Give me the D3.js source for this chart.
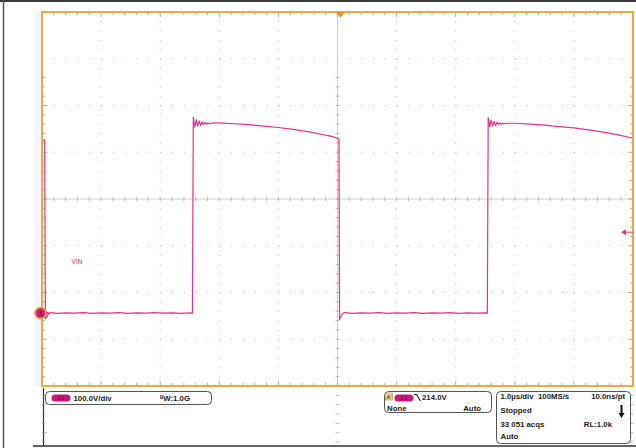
<!DOCTYPE html>
<html>
<head>
<meta charset="utf-8">
<script src="https://cdn.jsdelivr.net/npm/d3@7"></script>
<style>
  body { margin: 0; background: #fff; }
  svg { display: block; font-family: "Liberation Sans", Arial, sans-serif; }
  .lbl { font-size: 7.8px; font-weight: bold; fill: #222; }
</style>
</head>
<body>
<div id="scope"></div>
<script>
// waveform: time in us, voltage in V (100 V/div)
const timeUs = [-5.00, -4.955, -4.945, -4.94, -4.92, -4.89, -4.85, -4.75, -4.6, -4.45, -4.3, -4.15, -4.0,
  -3.85, -3.7, -3.55, -3.4, -3.25, -3.1, -2.95, -2.8, -2.65, -2.5, -2.455,
  -2.44, -2.415, -2.39, -2.365, -2.34, -2.315, -2.29, -2.265, -2.24, -2.215, -2.19, -2.16, -2.1, -2.0,
  -1.75, -1.5, -1.25, -1.0, -0.75, -0.5, -0.3, -0.1, 0.0, 0.025,
  0.035, 0.055, 0.08, 0.12, 0.25, 0.4, 0.55, 0.7, 0.85, 1.0, 1.15, 1.3, 1.45, 1.6, 1.75, 1.9, 2.05, 2.2, 2.35, 2.5, 2.535,
  2.55, 2.575, 2.60, 2.625, 2.65, 2.675, 2.70, 2.725, 2.75, 2.775, 2.80, 2.83, 2.9, 3.0,
  3.25, 3.5, 3.75, 4.0, 4.25, 4.5, 4.75, 5.0];
const volts = [371, 370, 60, -12, -8, -2, 1, -0.5, 0.5, 0, 1, -0.5, 0.5,
  0, 1, -0.5, 0.5, 0, 1, 0, 0.5, -0.5, 0.5, 0,
  419, 398, 414, 400, 411, 401, 409, 403, 408, 404, 407, 405, 407, 407,
  405, 403, 400, 397, 393, 388, 383, 378, 374, 372,
  -14, -8, -2, 1, -0.5, 0.5, 0, 1, -0.5, 0.5, 0, 1, -0.5, 0.5, 0, 1, -0.5, 0.5, 0, 0.5, 0,
  418, 399, 413, 400, 410, 401, 408, 403, 407, 404, 406, 405, 406, 406,
  404, 402, 399, 396, 392, 387, 381, 374];

const timeDomain = [-5, 5];        // 1 us/div, 10 div
const voltDomain = [-156, 644];    // 100 V/div, 8 div, ground 2.44 div below center
const triggerPos = 0.05;           // us
const triggerArrow = 173;          // V, where the level arrow sits
const groundLevel = 0;

const chLabel = "VIN";
const scaleText = ["100.0V/div"];
const trigText = ["214.0V", "None", "Auto"];
const timeText = ["1.0\u00b5s/div", "100MS/s", "10.0ns/pt", "Stopped", "33 051 acqs", "RL:1.0k", "Auto"];

const W = 636, H = 448;
const plot = {left: 42, right: 633, top: 12, bottom: 386};

const svg = d3.select("#scope").append("svg")
    .attr("width", W)
    .attr("height", H);

const x = d3.scaleLinear().domain(timeDomain).range([plot.left, plot.right]);
const y = d3.scaleLinear().domain(voltDomain).range([plot.bottom, plot.top]);

// outer frame of the screen grab
svg.append("line").attr("x1", 0).attr("x2", W).attr("y1", 1).attr("y2", 1)
    .attr("stroke", "#3a3a3a").attr("stroke-width", 2);
svg.append("line").attr("x1", 3.5).attr("x2", 3.5).attr("y1", 0).attr("y2", H)
    .attr("stroke", "#555").attr("stroke-width", 1.5);
svg.append("line").attr("x1", 33).attr("x2", W).attr("y1", 446).attr("y2", 446)
    .attr("stroke", "#333").attr("stroke-width", 1.5);
svg.append("line").attr("x1", 43.5).attr("x2", 43.5).attr("y1", 388).attr("y2", 446)
    .attr("stroke", "#333").attr("stroke-width", 1.2);

// faint strip left of the graticule
svg.append("rect").attr("x", 34).attr("y", plot.top).attr("width", 7).attr("height", plot.bottom - plot.top)
    .attr("fill", "#f2f5f9");

const g = svg.append("g");

// graticule: dotted lines at every division, dots on minor positions
const minorT = (x(0.2) - x(0)), minorV = (y(0) - y(20));
const divT = d3.range(-4, 5).filter(d => d !== 0);
const centerV = (voltDomain[0] + voltDomain[1]) / 2;
const divV = d3.range(-3, 4).filter(d => d !== 0).map(k => centerV + k * 100);

g.selectAll(".vgrid").data(divT).enter().append("line")
    .attr("x1", d => x(d)).attr("x2", d => x(d))
    .attr("y1", plot.top + minorV).attr("y2", plot.bottom)
    .attr("stroke", "#b8b8b8").attr("stroke-width", 1)
    .attr("stroke-dasharray", `1,${minorV - 1}`);

g.selectAll(".hgrid").data(divV).enter().append("line")
    .attr("y1", d => y(d)).attr("y2", d => y(d))
    .attr("x1", plot.left + minorT).attr("x2", plot.right)
    .attr("stroke", "#b8b8b8").attr("stroke-width", 1)
    .attr("stroke-dasharray", `1,${minorT - 1}`);

// center cross with ticks
g.append("line").attr("x1", x(0)).attr("x2", x(0)).attr("y1", plot.top).attr("y2", plot.bottom)
    .attr("stroke", "#c4c4c4").attr("stroke-width", 0.8);
g.append("line").attr("y1", y(centerV)).attr("y2", y(centerV)).attr("x1", plot.left).attr("x2", plot.right)
    .attr("stroke", "#c4c4c4").attr("stroke-width", 0.8);

const minorTimes = d3.range(-49, 50).map(d => d / 10).filter((d, i) => Math.round(d * 10) % 2 === 0);
const minorVolts = d3.range(-7, 33).map(k => voltDomain[0] + 20 * k + 20).filter(v => v < voltDomain[1]);

g.selectAll(".ctickx").data(minorTimes).enter().append("line")
    .attr("x1", d => x(d)).attr("x2", d => x(d))
    .attr("y1", y(centerV) - 2).attr("y2", y(centerV) + 2)
    .attr("stroke", "#aaa").attr("stroke-width", 0.8);
g.selectAll(".cticky").data(minorVolts).enter().append("line")
    .attr("y1", d => y(d)).attr("y2", d => y(d))
    .attr("x1", x(0) - 2).attr("x2", x(0) + 2)
    .attr("stroke", "#aaa").attr("stroke-width", 0.8);

// border ticks, pointing inward
const isMajT = d => Math.abs(d - Math.round(d)) < 1e-6;
[plot.top, plot.bottom].forEach((yy, i) => {
    const dir = i === 0 ? 1 : -1;
    g.selectAll(null).data(minorTimes).enter().append("line")
        .attr("x1", d => x(d)).attr("x2", d => x(d))
        .attr("y1", yy).attr("y2", d => yy + dir * (isMajT(d) ? 5 : 3))
        .attr("stroke", "#999").attr("stroke-width", 0.8);
});
const isMajV = d => Math.abs(((d - centerV) / 100) - Math.round((d - centerV) / 100)) < 1e-6;
[plot.left, plot.right].forEach((xx, i) => {
    const dir = i === 0 ? 1 : -1;
    g.selectAll(null).data(minorVolts).enter().append("line")
        .attr("y1", d => y(d)).attr("y2", d => y(d))
        .attr("x1", xx).attr("x2", d => xx + dir * (isMajV(d) ? 5 : 3))
        .attr("stroke", "#999").attr("stroke-width", 0.8);
});

// the trace
const pts = timeUs.map((t, i) => [t, volts[i]]);
const line = d3.line().x(d => x(d[0])).y(d => y(d[1]));
g.append("path")
    .datum(pts)
    .attr("d", line)
    .attr("fill", "none")
    .attr("stroke", "#e2338f")
    .attr("stroke-width", 1.2)
    .attr("stroke-linejoin", "round");

g.append("text")
    .attr("x", x(-4.5)).attr("y", y(centerV - 140))
    .attr("font-size", 6.5)
    .attr("fill", "#d42a86")
    .text(chLabel);

// orange border
svg.append("rect")
    .attr("x", plot.left).attr("y", plot.top)
    .attr("width", plot.right - plot.left).attr("height", plot.bottom - plot.top)
    .attr("fill", "none").attr("stroke", "#f2a93b").attr("stroke-width", 2);

// trigger position marker at top
const tx = x(triggerPos);
svg.append("path")
    .attr("d", `M${tx - 4},${plot.top} L${tx + 4},${plot.top} L${tx},${plot.top + 6} Z`)
    .attr("fill", "#f08a1c");

// trigger level arrow at right
const ty = y(triggerArrow);
svg.append("path")
    .attr("d", `M${plot.right - 12},${ty} L${plot.right - 7},${ty - 3} L${plot.right - 7},${ty + 3} Z`)
    .attr("fill", "#e2338f");
svg.append("line").attr("x1", plot.right - 8).attr("x2", plot.right).attr("y1", ty).attr("y2", ty)
    .attr("stroke", "#e2338f").attr("stroke-width", 1);

// channel 1 ground marker
const gy = y(groundLevel);
svg.append("path")
    .attr("d", `M${plot.left + 2},${gy - 3} L${plot.left + 8},${gy} L${plot.left + 2},${gy + 3} Z`)
    .attr("fill", "#e2338f");
svg.append("circle").attr("cx", plot.left - 1.5).attr("cy", gy).attr("r", 5.5)
    .attr("fill", "#d4237c").attr("stroke", "#f7a530").attr("stroke-width", 1.5);
svg.append("text").attr("x", plot.left - 1.5).attr("y", gy + 2.5)
    .attr("text-anchor", "middle").attr("font-size", 6.5).attr("font-weight", "bold")
    .attr("fill", "#222").text("1");

// ---- readout panel ----
const panel = svg.append("g");

function box(x0, y0, w, h) {
    panel.append("rect").attr("x", x0).attr("y", y0).attr("width", w).attr("height", h)
        .attr("rx", 4).attr("fill", "#fff").attr("stroke", "#555").attr("stroke-width", 1);
}
function pill(x0, y0) {
    panel.append("rect").attr("x", x0).attr("y", y0).attr("width", 19).attr("height", 7)
        .attr("rx", 3.5).attr("fill", "#c8177e");
    panel.append("text").attr("x", x0 + 9.5).attr("y", y0 + 5.5).attr("text-anchor", "middle")
        .attr("font-size", 5).attr("fill", "#5a0a38").text("C1");
}
function label(tx, ty, s, anchor) {
    panel.append("text").attr("class", "lbl").attr("x", tx).attr("y", ty)
        .attr("text-anchor", anchor || "start").text(s);
}

// vertical scale box
box(45.5, 391.5, 166, 13);
pill(51.5, 394.5);
label(73.5, 400.5, scaleText[0]);
const bw = panel.append("text").attr("class", "lbl").attr("x", 160).attr("y", 400.5);
bw.append("tspan").attr("font-size", 4.5).attr("dy", -2).text("B");
bw.append("tspan").attr("dy", 2).text("W:1.0G");

// trigger box
box(384.5, 391.5, 107, 21);
panel.append("rect").attr("x", 385.5).attr("y", 393).attr("width", 7).attr("height", 7)
    .attr("fill", "#f6dc9a").attr("stroke", "#b88a2a").attr("stroke-width", 0.6);
panel.append("text").attr("x", 386.5).attr("y", 399).attr("font-size", 5.5).attr("font-weight", "bold")
    .attr("fill", "#333").text("A'");
pill(394.5, 394.5);
panel.append("path").attr("d", "M414,394.5 H416.5 L420.5,401").attr("fill", "none")
    .attr("stroke", "#222").attr("stroke-width", 1.1);
label(422, 400, trigText[0]);
label(387, 410.5, trigText[1]);
label(481, 410.5, trigText[2], "end");

// timebase box
box(496.5, 391.5, 134, 52);
label(500.5, 399, timeText[0]);
label(538, 399, timeText[1]);
label(625, 399, timeText[2], "end");
label(500.5, 413, timeText[3]);
label(500.5, 426.5, timeText[4]);
label(612, 426.5, timeText[5], "end");
label(500.5, 439, timeText[6]);
// stopped arrow
panel.append("line").attr("x1", 621.5).attr("x2", 621.5).attr("y1", 405).attr("y2", 414)
    .attr("stroke", "#111").attr("stroke-width", 2);
panel.append("path").attr("d", "M618.5,413 L624.5,413 L621.5,418 Z").attr("fill", "#111");
</script>
</body>
</html>
